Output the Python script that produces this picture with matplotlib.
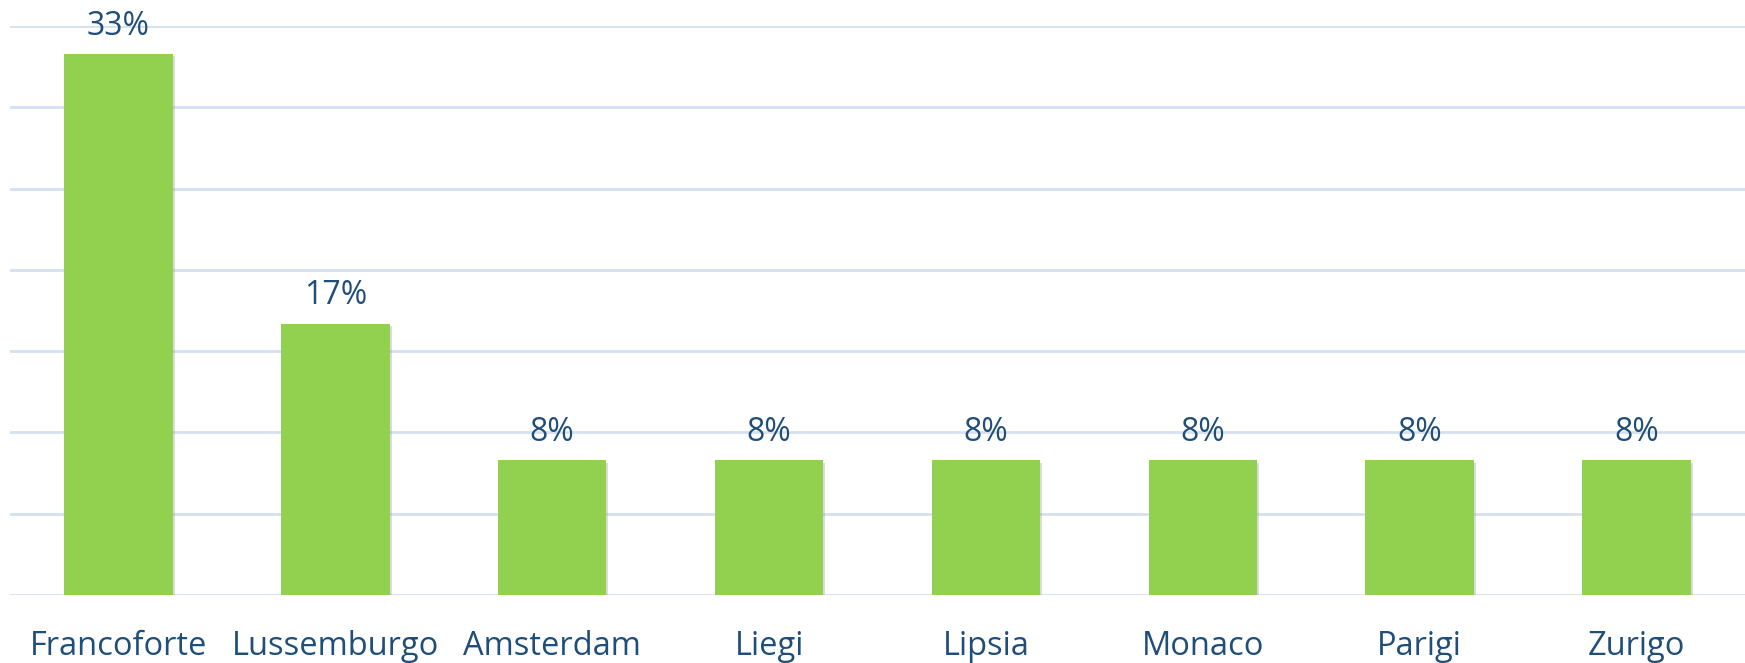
import matplotlib
matplotlib.use("Agg")
import matplotlib.pyplot as plt
from matplotlib import patheffects as pe

categories = ["Francoforte", "Lussemburgo", "Amsterdam", "Liegi", "Lipsia", "Monaco", "Parigi", "Zurigo"]
values = [33.3, 16.7, 8.3, 8.3, 8.3, 8.3, 8.3, 8.3]
labels = ["33%", "17%", "8%", "8%", "8%", "8%", "8%", "8%"]

W, H = 1745, 663
fig = plt.figure(figsize=(W / 100, H / 100), dpi=100)
x0, x1 = 10 / W, 1.0
y_base, y_top = 595, 26
ax = fig.add_axes([x0, (H - y_base) / H, x1 - x0, (y_base - y_top) / H])

text_color = "#1F4E79"
bar_color = "#92D050"
grid_color = "#D6E0F0"

xs = range(len(categories))
bars = ax.bar(xs, values, width=0.5, color=bar_color, zorder=3)
for b in bars:
    b.set_path_effects([pe.SimplePatchShadow(offset=(1.5, -2), shadow_rgbFace="#999999", alpha=0.35), pe.Normal()])

for xi, v, lab in zip(xs, values, labels):
    ax.annotate(lab, (xi, v), xytext=(0, 8), textcoords="offset points",
                ha="center", va="bottom", fontsize=23, color=text_color, family="Open Sans", zorder=4)

ax.set_xlim(-0.5, len(categories) - 0.5)
ax.set_ylim(0, 35)
ax.set_yticks(range(0, 36, 5))
ax.yaxis.grid(True, color=grid_color, linewidth=2, zorder=0)
ax.set_axisbelow(True)
ax.tick_params(axis="y", left=False, labelleft=False)
ax.tick_params(axis="x", bottom=False, pad=22)
ax.set_xticks(list(xs))
ax.set_xticklabels(categories, fontsize=23.5, color=text_color, family="Open Sans")
for s in ax.spines.values():
    s.set_visible(False)

fig.savefig("out.png", dpi=100, facecolor="white")
